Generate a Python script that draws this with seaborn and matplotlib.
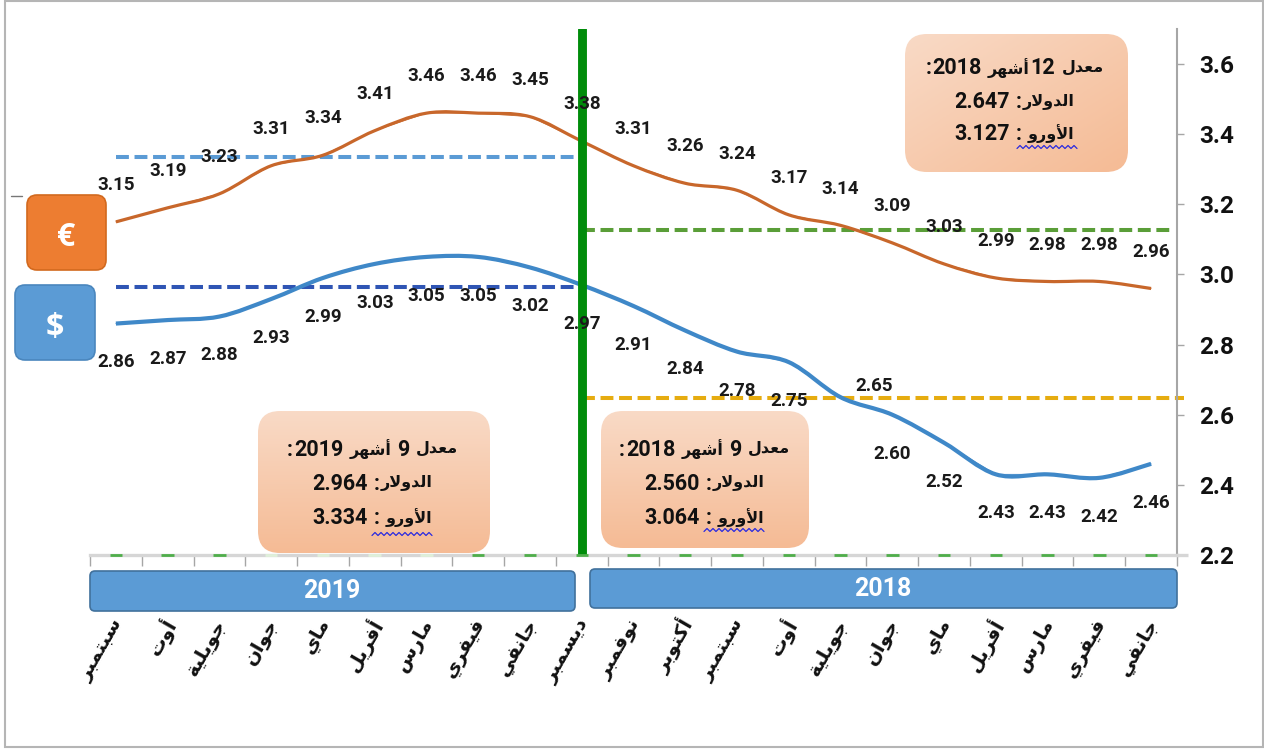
'''Euro and dollar monthly rates, 2018-2019, with average boxes
'''

import re
import numpy as np
import pandas as pd
import matplotlib
matplotlib.use('Agg')
import matplotlib.pyplot as plt
import seaborn as sns
from matplotlib.patches import FancyBboxPatch, PathPatch, Rectangle
from matplotlib.path import Path
from matplotlib.transforms import ScaledTranslation

months = ['سبتمبر', 'أوت', 'جويلية', 'جوان', 'ماي', 'أفريل', 'مارس', 'فيفري', 'جانفي', 'ديسمبر',
          'نوفمبر', 'أكتوبر', 'سبتمبر', 'أوت', 'جويلية', 'جوان', 'ماي', 'أفريل', 'مارس', 'فيفري', 'جانفي']
euro = [3.15, 3.19, 3.23, 3.31, 3.34, 3.41, 3.46, 3.46, 3.45, 3.38, 3.31,
        3.26, 3.24, 3.17, 3.14, 3.09, 3.03, 2.99, 2.98, 2.98, 2.96]
dollar = [2.86, 2.87, 2.88, 2.93, 2.99, 3.03, 3.05, 3.05, 3.02, 2.97, 2.91,
          2.84, 2.78, 2.75, 2.65, 2.60, 2.52, 2.43, 2.43, 2.42, 2.46]
avg_euro_2019 = 3.334
avg_dollar_2019 = 2.964
avg_euro_2018 = 3.127
avg_dollar_2018 = 2.647
y_ticks = [2.2, 2.4, 2.6, 2.8, 3.0, 3.2, 3.4, 3.6]

box_12m = ['معدل 12أشهر 2018:', 'الدولار: 2.647', 'الأورو : 3.127']
box_9m_2019 = ['معدل 9 أشهر 2019:', 'الدولار: 2.964', 'الأورو : 3.334']
box_9m_2018 = ['معدل 9 أشهر 2018:', 'الدولار: 2.560', 'الأورو : 3.064']

W, H = 1264, 749
FONT = ['Roboto', 'DejaVu Sans']

# matplotlib does not shape arabic, so map to presentation forms and reverse
NON_JOIN = {'ا': 0xFE8D, 'أ': 0xFE83, 'د': 0xFEA9, 'ر': 0xFEAD, 'و': 0xFEED, 'ة': 0xFE93}
JOIN = {'ب': 0xFE8F, 'ت': 0xFE95, 'ج': 0xFE9D, 'س': 0xFEB1, 'ش': 0xFEB5, 'ع': 0xFEC9, 'ف': 0xFED1,
        'ك': 0xFED9, 'ل': 0xFEDD, 'م': 0xFEE1, 'ن': 0xFEE5, 'ه': 0xFEE9, 'ي': 0xFEF1}
ARABIC = r'[\u0600-\u06FF]'


def shape_word(word):
    word = word.replace('لا', '\uFEFB').replace('لأ', '\uFEF7')
    out = []
    for i, ch in enumerate(word):
        prev_joins = i > 0 and word[i - 1] in JOIN
        next_joins = i < len(word) - 1 and (word[i + 1] in JOIN or word[i + 1] in NON_JOIN or word[i + 1] in '\uFEFB\uFEF7')
        if ch in '\uFEFB\uFEF7':
            out.append(chr(ord(ch) + 1) if prev_joins else ch)
        elif ch in NON_JOIN:
            out.append(chr(NON_JOIN[ch] + (1 if prev_joins else 0)))
        elif ch in JOIN:
            if prev_joins and next_joins:
                out.append(chr(JOIN[ch] + 3))
            elif next_joins:
                out.append(chr(JOIN[ch] + 2))
            elif prev_joins:
                out.append(chr(JOIN[ch] + 1))
            else:
                out.append(chr(JOIN[ch]))
        else:
            out.append(ch)
    return ''.join(reversed(out))


def visual_runs(text):
    return list(reversed(re.findall(ARABIC + r'+|[0-9.]+|.', text)))


def ar(text):
    return ''.join(shape_word(r) if re.match(ARABIC, r) else r for r in visual_runs(text))


sns.set_theme(style='white')
plt.rcParams['font.family'] = FONT
plt.rcParams['font.weight'] = 'bold'

fig = plt.figure(figsize=(W / 100, H / 100), dpi=100)
ax = fig.add_axes([90 / W, 1 - 555 / H, 1087 / W, 526 / H])
idx = np.arange(len(months))

df_euro = pd.DataFrame({'idx': idx, 'rate': euro})
df_dollar = pd.DataFrame({'idx': idx, 'rate': dollar})
sns.lineplot(data=df_euro, x='idx', y='rate', color='#c8672b', linewidth=0.6, ax=ax, zorder=3)
sns.lineplot(data=df_dollar, x='idx', y='rate', color='#3f88c8', linewidth=0.6, ax=ax, zorder=3)

# excel style smoothing of the two lines
for line, lw in zip(ax.get_lines()[:2], (2.3, 3.0)):
    p = line.get_xydata()
    q = np.vstack([p[0], p, p[-1]])
    verts, codes = [p[0]], [Path.MOVETO]
    for i in range(1, len(q) - 2):
        verts += [q[i] + (q[i + 1] - q[i - 1]) / 6, q[i + 1] - (q[i + 2] - q[i]) / 6, q[i + 1]]
        codes += [Path.CURVE4] * 3
    ax.add_patch(PathPatch(Path(verts, codes), fill=False, edgecolor=line.get_color(), linewidth=lw, zorder=3))

ax.set_xlim(-0.5, 20.5)
ax.set_ylim(2.2, 3.7)
ax.set_xlabel('')
ax.set_ylabel('')


def dash(y, x0, x1, color):
    ax.plot([x0, x1], [y, y], color=color, lw=2.9, ls=(0, (3.2, 1.4)), clip_on=False, zorder=2)


dash(avg_euro_2019, 0, 9, '#5b9bd5')
dash(avg_dollar_2019, 0, 9, '#2f55b4')
dash(avg_euro_2018, 9, 20.36, '#5a9e38')
dash(avg_dollar_2018, 9, 20.63, '#e6ac10')
ax.axvline(9, color='#008c0a', lw=6.4, zorder=4)

# small green marks on the axis
for i in idx:
    pale = i in (3, 4, 5, 6)
    ax.plot([i - 0.12, i + 0.12], [2.2, 2.2], color='#dff0da' if pale else '#4fae4a', lw=2,
            solid_capstyle='butt', clip_on=False, zorder=5)

# axes furniture
for s in ('left', 'top'):
    ax.spines[s].set_visible(False)
ax.spines['right'].set_color('#a6a6a6')
ax.spines['right'].set_linewidth(1.5)
ax.spines['bottom'].set_color('#d6d6d6')
ax.spines['bottom'].set_linewidth(2.4)
ax.yaxis.tick_right()
ax.set_yticks(y_ticks)
ax.set_yticklabels([f'{v:.1f}' for v in y_ticks], fontsize=17.5)
ax.tick_params(axis='y', length=5, width=1, color='#a6a6a6', pad=11, labelcolor='#111111', right=True)
ax.set_xticks(np.arange(-0.5, 21, 1), minor=True)
ax.tick_params(axis='x', which='minor', length=8, width=1, color='#a6a6a6', bottom=True)
ax.set_xticks(idx)
ax.set_xticklabels([ar(m) for m in months], rotation=60, ha='right', va='center',
                   rotation_mode='anchor', fontsize=14, color='#111111')
ax.tick_params(axis='x', which='major', length=0, pad=47)
for lab in ax.get_xticklabels():
    lab.set_transform(lab.get_transform() + ScaledTranslation(2 / 72, 0, fig.dpi_scale_trans))

# value labels
for i, v in zip(idx, euro):
    ax.annotate(f'{v:.2f}', (i, v), xytext=(0, 26.5), textcoords='offset points', ha='center', va='center',
                fontsize=13.5, color='#1a1a1a', zorder=6)
for i, v in zip(idx, dollar):
    off = (24, 8) if i == 14 else (0, -28)
    ax.annotate(f'{v:.2f}', (i, v), xytext=off, textcoords='offset points', ha='center', va='center',
                fontsize=13.5, color='#1a1a1a', zorder=6)

# overlay in pixel coordinates for the boxes and frame
ov = fig.add_axes([0, 0, 1, 1], zorder=5)
ov.set_xlim(0, W)
ov.set_ylim(H, 0)
ov.axis('off')
ov.patch.set_alpha(0)
renderer = fig.canvas.get_renderer()


def rbox(x0, y0, x1, y1, color, edge='none', rad=10):
    b = FancyBboxPatch((x0 + rad, y0 + rad), x1 - x0 - 2 * rad, y1 - y0 - 2 * rad,
                       boxstyle=f'round,pad={rad},rounding_size={rad}', facecolor=color, edgecolor=edge, lw=1.2)
    ov.add_patch(b)
    return b


def gradient_box(x0, y0, x1, y1, diagonal=False):
    b = rbox(x0, y0, x1, y1, 'none', rad=22)
    yy, xx = np.mgrid[0:1:60j, 0:1:60j]
    t = (xx + yy) / 2 if diagonal else yy
    c0, c1 = np.array([249, 218, 198]) / 255, np.array([245, 187, 149]) / 255
    img = c0 + (c1 - c0) * t[..., None]
    im = ov.imshow(img, extent=(x0, x1, y1, y0), aspect='auto', zorder=1)
    im.set_clip_path(b)


def mixed_line(text, cx, y):
    # numbers and arabic want different sizes, so lay the runs out one by one
    parts = []
    for r in visual_runs(text):
        if r == ' ':
            parts.append((None, 5))
            continue
        is_ar = re.match(ARABIC, r) is not None
        t = ov.text(0, y, shape_word(r) if is_ar else r, ha='left', va='center_baseline',
                    fontsize=11.5 if is_ar else 15.5, color='#111111', zorder=3)
        parts.append((t, t.get_window_extent(renderer).width + 1))
    x = cx - sum(p[1] for p in parts) / 2
    for t, w in parts:
        if t is not None:
            t.set_x(x)
        x += w


def box_text(lines, cx, ys, wave):
    for t, y in zip(lines, ys):
        mixed_line(t, cx, y)
    xs = np.arange(wave[0], wave[1], 3.0)
    ov.plot(xs, wave[2] + 1.5 * (-1.0) ** np.arange(len(xs)), color='#2a2ae0', lw=0.9, zorder=3)


gradient_box(905, 34, 1128, 172, diagonal=True)
box_text(box_12m, 1015, (66, 100, 132), (1017, 1079, 147))
gradient_box(258, 411, 490, 553)
box_text(box_9m_2019, 373, (447, 481, 516), (372, 434, 534))
gradient_box(601, 411, 809, 548)
box_text(box_9m_2018, 705, (447, 481, 516), (704, 766, 530))

rbox(90, 571, 575, 611, '#5b9bd5', edge='#41719c', rad=5)
ov.text(332, 591, '2019', ha='center', va='center', color='white', fontsize=18)
rbox(590, 569, 1177, 608, '#5b9bd5', edge='#41719c', rad=5)
ov.text(883, 589, '2018', ha='center', va='center', color='white', fontsize=18)

rbox(27, 195, 106, 270, '#ed7d31', edge='#d2691e', rad=10)
ov.text(66, 238, '€', ha='center', va='center', color='white', fontsize=23, family='Open Sans')
rbox(15, 285, 95, 360, '#5b9bd5', edge='#4a86bd', rad=10)
ov.text(55, 329, '$', ha='center', va='center', color='white', fontsize=23, family='Open Sans')

ov.plot([11, 22], [196, 196], color='#777777', lw=1)
ov.plot([1177, 1188], [555, 555], color='#d6d6d6', lw=2.4, solid_capstyle='butt')
ov.add_patch(Rectangle((5, 1), 1258, 746, fill=False, edgecolor='#b5b5b5', lw=1.5))

fig.savefig('out.png', dpi=100)
